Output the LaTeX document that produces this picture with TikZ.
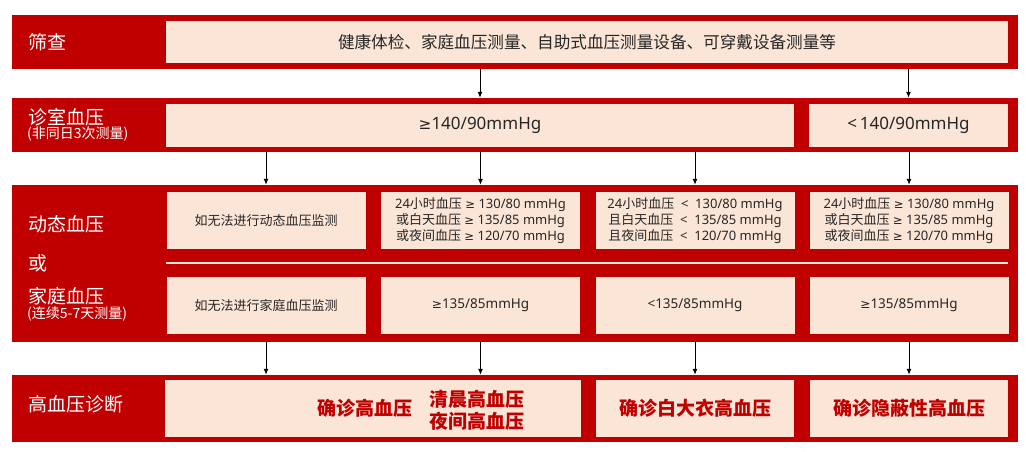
\documentclass[tikz,border=0pt]{standalone}
\usepackage{fontspec}
\setmainfont{Noto Sans CJK SC}
\newfontfamily\lat{Noto Sans}
\newfontfamily\symf[Scale=0.9]{DejaVu Sans}
\newcommand\gesign{{\symf ≥}}
\usetikzlibrary{arrows.meta}

\definecolor{bandred}{HTML}{C00000}
\definecolor{cellpeach}{HTML}{FBE5D6}

\tikzset{
  band/.style={fill=bandred, minimum width=1006pt, inner sep=0pt},
  cell/.style={fill=cellpeach, inner sep=0pt, align=center, text=black!85,
    minimum width=199pt, minimum height=57pt, font=\fontsize{13}{16}\selectfont},
  lab/.style={anchor=west, text=white, inner sep=0pt, font=\fontsize{19}{22}\selectfont},
  note/.style={anchor=west, text=white, inner sep=0pt, font=\fontsize{14}{16}\selectfont},
  res/.style={text=bandred, inner sep=0pt, align=left, font=\bfseries\fontsize{19}{22}\selectfont},
  arr/.style={-{Latex[length=6pt,width=5pt]}, line width=1pt}
}

\begin{document}
\begin{tikzpicture}[x=1pt, y=-1pt]
  \useasboundingbox (0,0) rectangle (1026,452);

  % red bands
  \node[band, minimum height=54pt] (b1) at (515,42) {};
  \node[band, minimum height=54pt] (b2) at (515,125) {};
  \node[band, minimum height=157pt] (b3) at (515,263.5) {};
  \node[band, minimum height=67pt] (b4) at (515,408.5) {};

  % row labels
  \node[lab] (scrlab) at (28,42) {筛查};
  \node[lab] (offlab) at (28,117) {诊室血压};
  \node[note] (offnote) at (27,133.5) {(非同日3次测量)};
  \node[lab] (amblab) at (28,224) {动态血压};
  \node[lab] (orlab) at (28,263.5) {或};
  \node[lab] (homelab) at (28,296) {家庭血压};
  \node[note] (homenote) at (27,314) {(连续5-7天测量)};
  \node[lab] (dialab) at (28,404.5) {高血压诊断};

  % screening
  \node[cell, minimum width=842pt, minimum height=42pt, font=\fontsize{16.6}{19}\selectfont]
    (scr) at (587,42) {健康体检、家庭血压测量、自助式血压测量设备、可穿戴设备测量等};

  % office
  \node[cell, minimum width=628pt, minimum height=43pt, font=\lat\fontsize{17}{20}\selectfont]
    (off1) at (480,125.5) {\gesign140/90mmHg};
  \node[cell, minimum height=43pt, font=\lat\fontsize{17}{20}\selectfont]
    (off2) at (908.5,125.5) {<\,140/90mmHg};

  % ambulatory
  \node[cell] (amb1) at (266,220.5) {如无法进行动态血压监测};
  \node[cell] (amb2) at (480.5,220.5) {{\lat 24}小时血压{\lat\ \gesign\ 130/80 mmHg}\\或白天血压{\lat\ \gesign\ 135/85 mmHg}\\或夜间血压{\lat\ \gesign\ 120/70 mmHg}};
  \node[cell] (amb3) at (695,220.5) {{\lat 24}小时血压{\lat\ \ <\ \ 130/80 mmHg}\\且白天血压{\lat\ \ <\ \ 135/85 mmHg}\\且夜间血压{\lat\ \ <\ \ 120/70 mmHg}};
  \node[cell] (amb4) at (909,220.5) {{\lat 24}小时血压{\lat\ \gesign\ 130/80 mmHg}\\或白天血压{\lat\ \gesign\ 135/85 mmHg}\\或夜间血压{\lat\ \gesign\ 120/70 mmHg}};

  \draw[cellpeach, line width=2.5pt] (166,263) -- (1008,263);

  % home
  \node[cell] (home1) at (266,305.5) {如无法进行家庭血压监测};
  \node[cell, font=\lat\fontsize{13.5}{16}\selectfont] (home2) at (480.5,305.5) {\gesign135/85mmHg};
  \node[cell, font=\lat\fontsize{13.5}{16}\selectfont] (home3) at (695,305.5) {<135/85mmHg};
  \node[cell, font=\lat\fontsize{13.5}{16}\selectfont] (home4) at (909,305.5) {\gesign135/85mmHg};

  % diagnosis
  \node[cell, minimum width=416pt] (dia1) at (373,408.5) {};
  \node[res] (hyp) at (364.5,408) {确诊高血压};
  \node[res] (morn) at (476.5,410.5) {清晨高血压\\夜间高血压};
  \node[cell, minimum width=198pt, font=\bfseries\fontsize{19}{22}\selectfont, text=bandred]
    (dia2) at (695,408.5) {确诊白大衣高血压};
  \node[cell, minimum width=198pt, font=\bfseries\fontsize{19}{22}\selectfont, text=bandred]
    (dia3) at (909,408.5) {确诊隐蔽性高血压};

  % arrows
  \draw[arr] (b1.south -| off1) -- (b2.north -| off1);
  \draw[arr] (b1.south -| off2) -- (b2.north -| off2);
  \draw[arr] (b2.south -| amb1) -- (b3.north -| amb1);
  \draw[arr] (b2.south -| amb2) -- (b3.north -| amb2);
  \draw[arr] (b2.south -| amb3) -- (b3.north -| amb3);
  \draw[arr] (b2.south -| amb4) -- (b3.north -| amb4);
  \draw[arr] (b3.south -| home1) -- (b4.north -| home1);
  \draw[arr] (b3.south -| home2) -- (b4.north -| home2);
  \draw[arr] (b3.south -| home3) -- (b4.north -| home3);
  \draw[arr] (b3.south -| home4) -- (b4.north -| home4);
\end{tikzpicture}
\end{document}
